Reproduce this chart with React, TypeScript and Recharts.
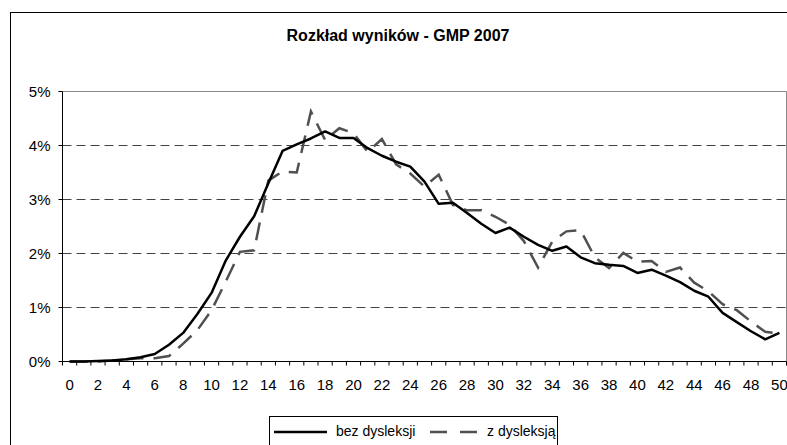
import React from 'react';
import { LineChart, Line, XAxis, YAxis, CartesianGrid, ReferenceLine, Legend } from 'recharts';

const scores = [0, 1, 2, 3, 4, 5, 6, 7, 8, 9, 10, 11, 12, 13, 14, 15, 16, 17, 18, 19, 20, 21, 22, 23, 24, 25, 26, 27, 28, 29, 30, 31, 32, 33, 34, 35, 36, 37, 38, 39, 40, 41, 42, 43, 44, 45, 46, 47, 48, 49, 50];

const bezDysleksji = [0, 0, 0.01, 0.02, 0.04, 0.08, 0.14, 0.31, 0.53, 0.88, 1.27, 1.87, 2.31, 2.69, 3.30, 3.90, 4.02, 4.13, 4.26, 4.14, 4.14, 3.95, 3.81, 3.70, 3.61, 3.33, 2.92, 2.94, 2.75, 2.55, 2.38, 2.48, 2.31, 2.16, 2.05, 2.13, 1.93, 1.82, 1.79, 1.77, 1.64, 1.70, 1.59, 1.47, 1.31, 1.20, 0.90, 0.73, 0.56, 0.41, 0.53];

const zDysleksja = [0, 0, 0, 0.02, 0.04, 0.06, 0.06, 0.10, 0.33, 0.58, 0.95, 1.48, 2.03, 2.06, 3.35, 3.52, 3.50, 4.63, 4.10, 4.32, 4.23, 3.88, 4.12, 3.65, 3.48, 3.24, 3.46, 2.90, 2.80, 2.80, 2.68, 2.53, 2.23, 1.74, 2.22, 2.41, 2.43, 1.93, 1.73, 2.01, 1.85, 1.86, 1.66, 1.74, 1.46, 1.30, 1.06, 0.95, 0.74, 0.55, 0.52];

const yTicks = [0, 1, 2, 3, 4, 5];
const gridValues = [1, 2, 3, 4];

const title = 'Rozkład wyników - GMP 2007';
const seriesNames = ['bez dysleksji', 'z dysleksją'];

const data = scores.map((s, i) => ({ score: s, bez: bezDysleksji[i], z: zDysleksja[i] }));

const W = 787;
const H = 445;
const PLOT_LEFT = 62.5;
const PLOT_RIGHT = 786.5;
const PLOT_BOTTOM = 361.5;
const HALF_BAND = (PLOT_RIGHT - PLOT_LEFT) / scores.length / 2;
const FONT = '"Liberation Sans", Arial, sans-serif';
const DASHED_COLOR = '#505050';
const TICK_FONT = 15;

const XTick = (props: any) => {
  const { x, payload } = props;
  const v = payload.value;
  return (
    <g>
      <line x1={x - HALF_BAND} x2={x - HALF_BAND} y1={PLOT_BOTTOM} y2={PLOT_BOTTOM + 4} stroke="#000" strokeWidth={1} />
      {v === scores[scores.length - 1] && (
        <line x1={x + HALF_BAND} x2={x + HALF_BAND} y1={PLOT_BOTTOM} y2={PLOT_BOTTOM + 4} stroke="#000" strokeWidth={1} />
      )}
      {v % 2 === 0 && (
        <text x={x} y={390} textAnchor="middle" fontSize={TICK_FONT} fontFamily={FONT} fill="#000">
          {v}
        </text>
      )}
    </g>
  );
};

const LegendBox = () => (
  <div
    style={{
      position: 'relative',
      width: 289,
      height: 40,
      border: '1px solid #000',
      background: '#fff',
      boxSizing: 'border-box',
      fontFamily: FONT,
      fontSize: 14,
      color: '#000',
    }}
  >
    <svg style={{ position: 'absolute', left: 4, top: 13 }} width={53} height={4}>
      <line x1={0} x2={53} y1={2} y2={2} stroke="#000" strokeWidth={2.5} />
    </svg>
    <div style={{ position: 'absolute', left: 66, top: 6, lineHeight: '17px', whiteSpace: 'nowrap' }}>{seriesNames[0]}</div>
    <svg style={{ position: 'absolute', left: 160, top: 13 }} width={54} height={4}>
      <line x1={0} x2={54} y1={2} y2={2} stroke={DASHED_COLOR} strokeWidth={2.5} strokeDasharray="17 13" />
    </svg>
    <div style={{ position: 'absolute', left: 217, top: 6, lineHeight: '17px', whiteSpace: 'nowrap' }}>{seriesNames[1]}</div>
  </div>
);

export default function App() {
  return (
    <div style={{ position: 'absolute', left: 0, top: 0, width: W, height: H, overflow: 'hidden', background: '#fff' }}>
      <div
        style={{
          position: 'absolute',
          left: 10,
          top: 12,
          width: 800,
          height: 460,
          border: '1px solid #000',
          boxSizing: 'border-box',
        }}
      />
      <div
        style={{
          position: 'absolute',
          left: 10,
          width: 776,
          top: 27,
          textAlign: 'center',
          fontFamily: FONT,
          fontWeight: 'bold',
          fontSize: 16,
          lineHeight: '18px',
          color: '#000',
        }}
      >
        {title}
      </div>
      <div style={{ position: 'absolute', left: 0, top: 0 }}>
        <LineChart width={W} height={H} data={data} margin={{ top: 91.5, right: 0.5, bottom: 53.5, left: 0 }}>
          <CartesianGrid vertical={false} horizontalValues={gridValues} stroke="#444" strokeDasharray="9 5" />
          <ReferenceLine y={5} stroke="#888" strokeWidth={1} />
          <ReferenceLine x={50.5} stroke="#888" strokeWidth={1} />
          <XAxis
            dataKey="score"
            type="number"
            domain={[-0.5, 50.5]}
            ticks={scores}
            interval={0}
            allowDataOverflow
            tick={<XTick />}
            tickLine={false}
            axisLine={{ stroke: '#000' }}
            height={30}
          />
          <YAxis
            type="number"
            domain={[0, 5]}
            ticks={yTicks}
            interval={0}
            width={62.5}
            tickFormatter={(v: number) => `${v}%`}
            tick={{ fontSize: TICK_FONT, fill: '#000', fontFamily: FONT }}
            tickLine={{ stroke: '#000' }}
            axisLine={{ stroke: '#000' }}
            tickSize={4}
            tickMargin={8}
          />
          <Legend
            verticalAlign="middle"
            align="center"
            layout="horizontal"
            wrapperStyle={{ left: 269, top: 416, width: 289, height: 40 }}
            content={() => <LegendBox />}
          />
          <Line
            type="linear"
            dataKey="z"
            name={seriesNames[1]}
            stroke={DASHED_COLOR}
            strokeWidth={2.5}
            strokeDasharray="18 10"
            dot={false}
            activeDot={false}
            isAnimationActive={false}
          />
          <Line
            type="linear"
            dataKey="bez"
            name={seriesNames[0]}
            stroke="#000"
            strokeWidth={2.5}
            strokeLinejoin="round"
            dot={false}
            activeDot={false}
            isAnimationActive={false}
          />
        </LineChart>
      </div>
    </div>
  );
}
